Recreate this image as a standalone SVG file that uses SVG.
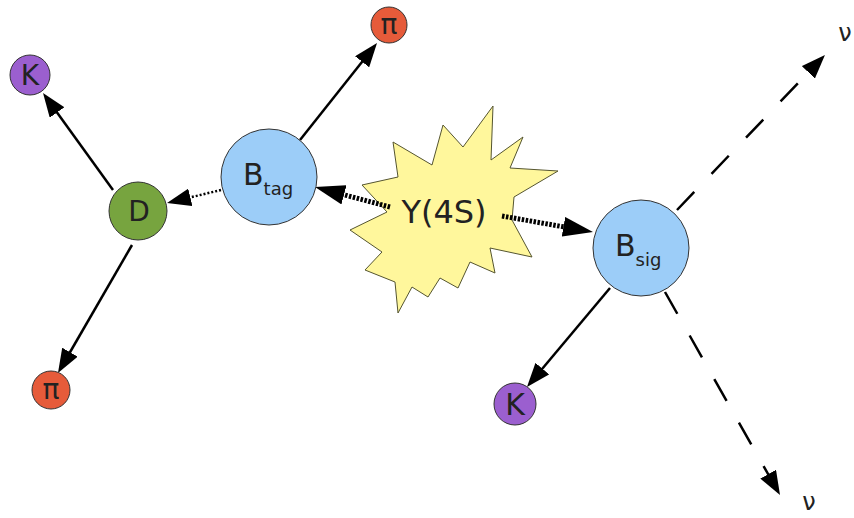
<svg xmlns="http://www.w3.org/2000/svg" width="854" height="518" viewBox="0 0 854 518">
<defs>
<marker id="ah" markerUnits="userSpaceOnUse" markerWidth="24" markerHeight="18" refX="9" refY="9" orient="auto">
<path d="M0,0 L24,9 L0,18 z" fill="#000"/>
</marker>
<marker id="ahb" markerUnits="userSpaceOnUse" markerWidth="30" markerHeight="20" refX="15" refY="10" orient="auto">
<path d="M0,0 L30,10 L0,20 z" fill="#000"/>
</marker>
<style>
.node circle{stroke:#333;stroke-width:1}
.lbl{font-family:"DejaVu Sans",sans-serif;fill:#222;text-anchor:middle}
.solid{stroke:#000;stroke-width:2.5;fill:none;marker-end:url(#ah)}
.dot{stroke:#000;stroke-width:2.5;fill:none;stroke-dasharray:2 2;marker-end:url(#ah)}
.thickdot{stroke:#000;stroke-width:5;fill:none;stroke-dasharray:2.5 1.5;marker-end:url(#ahb)}
.dash{stroke:#000;stroke-width:2.5;fill:none;stroke-dasharray:25 25;marker-end:url(#ah)}
.k{fill:#9b5fcf}
.pi{fill:#e65b3a}
.b{fill:#9ccdf8}
</style>
</defs>
<rect width="854" height="518" fill="#fff"/>
<g id="Y4S">
<polygon points="493,106 491,160 523,137 510,168 558,171 514,197 512,220 532,257 490,248 495,273 470,262 458,288 440,278 428,297 412,287 398,313 395,282 365,270 382,252 350,230 387,212 362,185 398,177 393,142 432,165 443,125 463,147" fill="#fff79c" stroke="#555530" stroke-width="1"/>
<text class="lbl" x="444" y="223" font-size="32">Y(4S)</text>
</g>
<g id="connectors">
<path class="solid" d="M113,190 L51.8,105.2"/>
<path class="solid" d="M132,245 L65.5,360"/>
<path class="solid" d="M300,140 L367.7,54.7"/>
<path class="dot" d="M221,190 L181.6,199.5"/>
<path class="thickdot" d="M390,207 L329.5,190.9"/>
<path class="thickdot" d="M502,216 L578.2,229.4"/>
<path class="solid" d="M610,288 L536.6,375.5"/>
<path class="dash" d="M677,210 L814.6,65.8"/>
<path class="dash" d="M665,292 L772.6,482"/>
</g>
<g id="K1" class="node"><circle class="k" cx="30" cy="75" r="20"/><text class="lbl" x="30" y="85" font-size="28">K</text></g>
<g id="D" class="node"><circle cx="138" cy="211" r="29" fill="#77a43f"/><text class="lbl" x="139" y="221" font-size="28">D</text></g>
<g id="pi1" class="node"><circle class="pi" cx="51" cy="390" r="19"/><text class="lbl" x="51" y="399" font-size="28">π</text></g>
<g id="pi2" class="node"><circle class="pi" cx="389" cy="25" r="18"/><text class="lbl" x="389" y="34" font-size="28">π</text></g>
<g id="Btag" class="node"><circle class="b" cx="269" cy="177" r="48"/><text x="243" y="185" style="font-family:'DejaVu Sans',sans-serif;fill:#222" font-size="30">B<tspan font-size="18" dy="10">tag</tspan></text></g>
<g id="Bsig" class="node"><circle class="b" cx="641" cy="248" r="48"/><text x="615" y="256" style="font-family:'DejaVu Sans',sans-serif;fill:#222" font-size="30">B<tspan font-size="18" dy="10">sig</tspan></text></g>
<g id="K2" class="node"><circle class="k" cx="515" cy="404" r="21"/><text class="lbl" x="515" y="415" font-size="30">K</text></g>
<g id="nu1"><text class="lbl" x="845" y="41" font-size="24">ν</text></g>
<g id="nu2"><text class="lbl" x="809" y="510" font-size="24">ν</text></g>
</svg>
